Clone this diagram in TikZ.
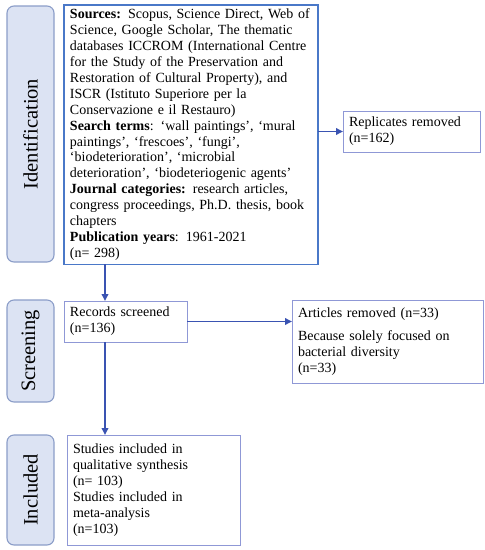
\documentclass[tikz,border=0pt]{standalone}
\usepackage{fontspec}
\setmainfont{Liberation Serif}
\usetikzlibrary{arrows.meta}

\definecolor{sidefill}{HTML}{DCE3F3}
\definecolor{sideline}{HTML}{8B9DC8}
\definecolor{mainline}{HTML}{4A78C8}
\definecolor{boxline}{HTML}{8F98D6}
\definecolor{arrowblue}{HTML}{3A53B2}

\begin{document}
\begin{tikzpicture}[
            x = 1pt, y = -1pt,
            every node/.style={inner sep=0pt, outer sep=0pt},
            side/.style={draw=sideline, fill=sidefill, line width=1.1pt, rounded corners=7pt,
                rotate=90, minimum height=47pt, font=\fontsize{20.5}{22}\selectfont},
            box/.style={draw=boxline, line width=.9pt, anchor=north west, align=left,
                inner xsep=6pt, inner ysep=4pt, font=\fontsize{14}{15.9}\selectfont},
            link/.style={draw=arrowblue, line width=1.8pt, -{Triangle[length=7pt, width=6.5pt]}},
            ]

        \useasboundingbox (0,0) rectangle (485,550);

        % stage labels
        \node[side, minimum width=256pt] (identification) at (30.5,134) {Identification};
        \node[side, minimum width=102pt] (screening) at (30.5,351) {Screening};
        \node[side, minimum width=110pt] (included) at (30.5,490) {Included};

        % boxes
        \node[box, draw=mainline, line width=1.4pt, text width=242pt, minimum height=256pt] (src) at (64,5)
            {\textbf{Sources:} Scopus, Science Direct, Web of\\
            Science, Google Scholar, The thematic\\
            databases ICCROM (International Centre\\
            for the Study of the Preservation and\\
            Restoration of Cultural Property), and\\
            ISCR (Istituto Superiore per la\\
            Conservazione e il Restauro)\\
            \textbf{Search terms}: ‘wall paintings’, ‘mural\\
            paintings’, ‘frescoes’, ‘fungi’,\\
            ‘biodeterioration’, ‘microbial\\
            deterioration’, ‘biodeteriogenic agents’\\
            \textbf{Journal categories:} research articles,\\
            congress proceedings, Ph.D. thesis, book\\
            chapters\\
            \textbf{Publication years}: 1961-2021\\
            (n= 298)};
        \node[box, text width=125pt, minimum height=41pt] (repl) at (343,111)
            {Replicates removed\\(n=162)};
        \node[box, text width=111pt, minimum height=41pt] (rec) at (64,301)
            {Records screened\\(n=136)};
        \node[box, text width=179pt, minimum height=83pt] (art) at (292,300)
            {Articles removed (n=33)\\[8pt]
            Because solely focused on\\
            bacterial diversity\\
            (n=33)};
        \node[box, text width=161pt, minimum height=110pt] (stud) at (67,435)
            {Studies included in\\
            qualitative synthesis\\
            (n= 103)\\
            Studies included in\\
            meta-analysis\\
            (n=103)};

        % arrows
        \draw[link] (src.east |- repl.west) -- (repl.west);
        \draw[link] ([xshift=41pt]src.south west) -- ([xshift=41pt]rec.north west);
        \draw[link] (rec.east) -- (rec.east -| art.west);
        \draw[link] ([xshift=41pt]rec.south west) -- ([xshift=38pt]stud.north west);
    \end{tikzpicture}
\end{document}
